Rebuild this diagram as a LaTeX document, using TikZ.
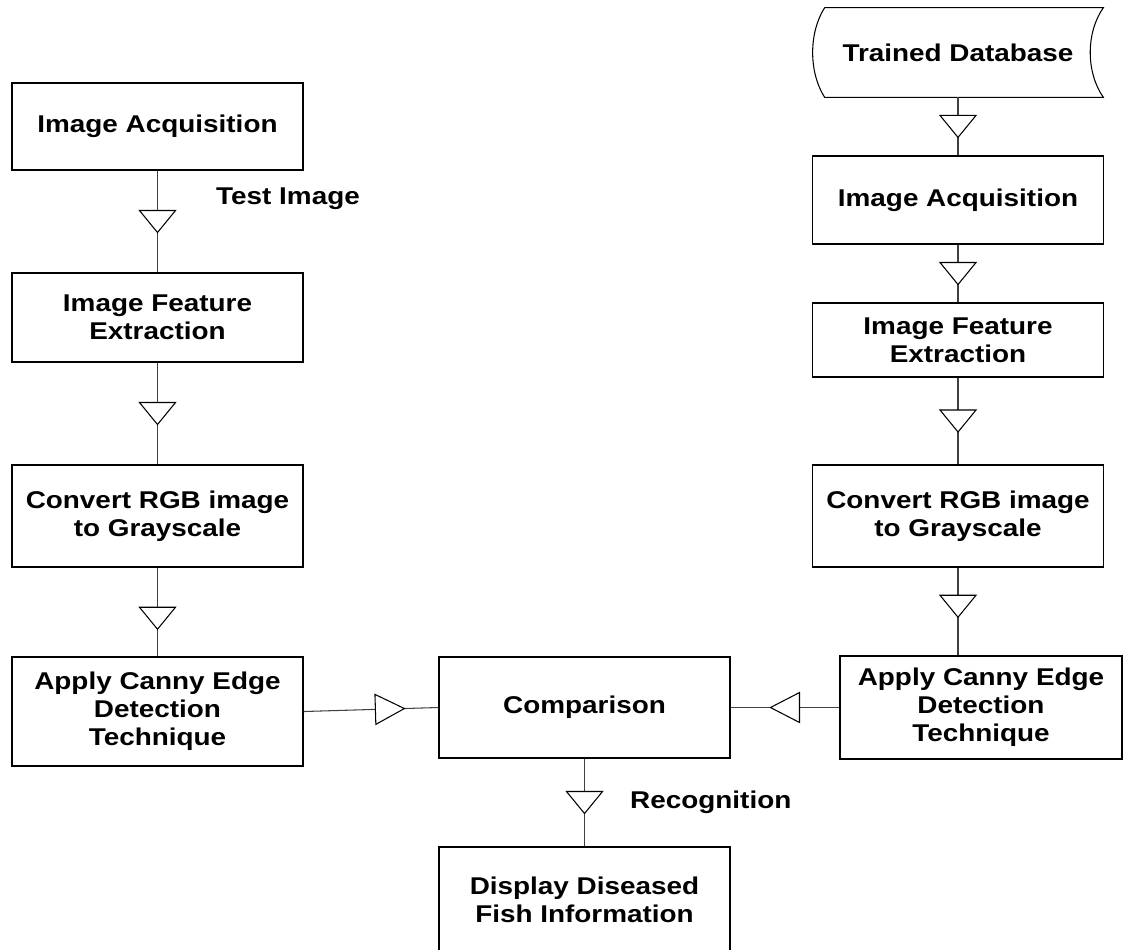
\documentclass[tikz,border=0pt]{standalone}
\usepackage{fontspec}
\setmainfont[FakeStretch=1.15]{Liberation Sans}
\usetikzlibrary{decorations.markings}
\tikzset{
  box/.style = {draw,line width=0.6pt,minimum width=5.82cm,align=center,
    font=\bfseries\fontsize{13.8}{16}\selectfont},
  lbl/.style = {font=\bfseries\fontsize{13.8}{16}\selectfont},
  link/.style = {draw=black!75,line width=0.6pt},
  vtri/.style = {postaction={decorate,decoration={markings,
    mark=at position #1 with {\draw[black,line width=0.6pt,fill=white]
      (-0.22cm,0.36cm) -- (0.22cm,0) -- (-0.22cm,-0.36cm) -- cycle;}}}},
  vtri/.default = 0.5,
  htri/.style = {postaction={decorate,decoration={markings,
    mark=at position #1 with {\draw[black,line width=0.6pt,fill=white]
      (-0.29cm,0.3cm) -- (0.29cm,0) -- (-0.29cm,-0.3cm) -- cycle;}}}},
  htri/.default = 0.5
}

\begin{document}
\begin{tikzpicture}
  \useasboundingbox (0,0) rectangle (22.46,-18.98);
  % test image side
  \node[box,minimum height=1.74cm] (acqL) at (3.15,-2.53) {Image Acquisition};
  \node[box,minimum height=1.78cm] (featL) at (3.15,-6.35) {Image Feature\\Extraction};
  \node[box,minimum height=2.04cm] (grayL) at (3.15,-10.32) {Convert RGB image\\to Grayscale};
  \node[box,minimum height=2.18cm] (cannyL) at (3.15,-14.23) {Apply Canny Edge\\Detection\\Technique};
  % middle
  \node[box,minimum height=2.02cm] (cmp) at (11.69,-14.15) {Comparison};
  \node[box,minimum height=2.12cm] (disp) at (11.69,-18.0) {Display Diseased\\Fish Information};
  % trained side
  \node[lbl,minimum width=5.8cm,minimum height=1.78cm] (db) at (19.16,-1.05) {Trained Database};
  \draw[line width=0.6pt] ([xshift=0.24cm]db.north west) -- (db.north east)
    .. controls ([xshift=-0.35cm,yshift=-0.5cm]db.north east) and ([xshift=-0.35cm,yshift=0.5cm]db.south east) .. (db.south east)
    -- ([xshift=0.24cm]db.south west)
    .. controls ([xshift=-0.08cm,yshift=0.5cm]db.south west) and ([xshift=-0.08cm,yshift=-0.5cm]db.north west) .. ([xshift=0.24cm]db.north west);
  \node[box,minimum height=1.76cm] (acqR) at (19.16,-4.0) {Image Acquisition};
  \node[box,minimum height=1.48cm] (featR) at (19.16,-6.8) {Image Feature\\Extraction};
  \node[box,minimum height=2.04cm] (grayR) at (19.16,-10.32) {Convert RGB image\\to Grayscale};
  \node[box,minimum height=2.06cm,minimum width=5.64cm] (cannyR) at (19.62,-14.15) {Apply Canny Edge\\Detection\\Technique};

  \node[lbl,anchor=west] (test) at (4.2,-3.98) {Test Image};
  \node[lbl,anchor=west] (recog) at (12.48,-16.04) {Recognition};

  \path[link,vtri] (acqL) -- (featL);
  \path[link,vtri] (featL) -- (grayL);
  \path[link,vtri=0.57] (grayL) -- (cannyL);
  \path[link,htri=0.64] (cannyL.east) -- (cmp.west);
  \path[link,vtri] (cmp) -- (disp);
  \path[link,vtri] (db.south) -- (acqR);
  \path[link,vtri] (acqR) -- (featR);
  \path[link,vtri] (featR) -- (grayR);
  \path[link,vtri=0.44] (grayR) -- (grayR |- cannyR.north);
  \path[link,htri] (cannyR.west) -- (cmp.east);
\end{tikzpicture}
\end{document}
